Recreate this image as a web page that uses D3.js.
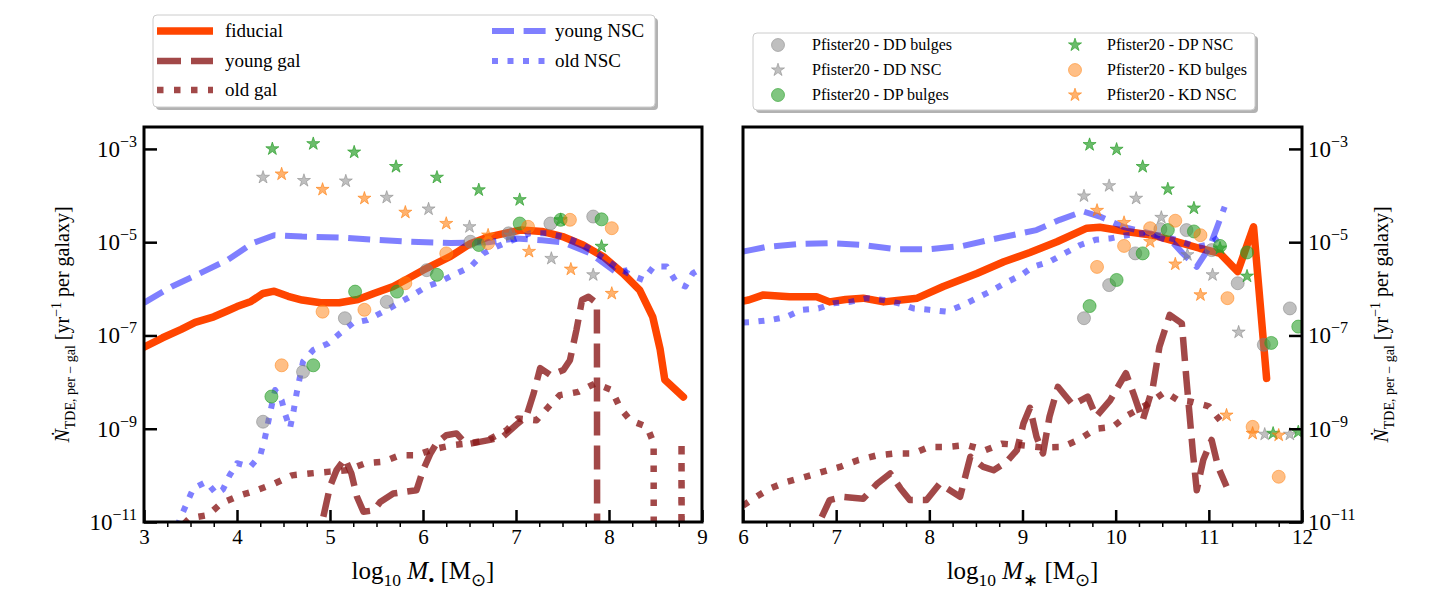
<!DOCTYPE html>
<html><head><meta charset="utf-8">
<script src="https://cdn.jsdelivr.net/npm/d3@7"></script>
<style>
body{margin:0;background:#fff}
svg{display:block}
text{font-family:"Liberation Serif","Times New Roman",serif;fill:#000;white-space:pre}
</style>
</head><body>
<svg id="c" width="1447" height="597"></svg>
<script>
// ---------- data: [x, log10(rate)] ; null = zero rate ----------
// Left panel: x = log10 M_BH
const fiducialL = [[3.0,-7.25],[3.2,-7.05],[3.4,-6.87],[3.55,-6.72],[3.75,-6.6],[3.9,-6.47],[4.0,-6.38],[4.15,-6.27],[4.28,-6.1],[4.4,-6.05],[4.55,-6.16],[4.7,-6.24],[4.9,-6.3],[5.1,-6.3],[5.3,-6.23],[5.47,-6.1],[5.68,-5.95],[5.82,-5.8],[6.0,-5.6],[6.15,-5.45],[6.3,-5.3],[6.5,-5.04],[6.7,-4.89],[6.9,-4.8],[7.05,-4.74],[7.28,-4.77],[7.5,-4.88],[7.72,-5.06],[7.94,-5.31],[8.15,-5.67],[8.33,-6.03],[8.47,-6.6],[8.55,-7.3],[8.6,-7.95],[8.8,-8.32]];
const youngGalL = [[4.85,-11.6],[5.0,-10.24],[5.07,-9.89],[5.16,-9.64],[5.23,-9.96],[5.29,-10.46],[5.36,-10.78],[5.47,-10.75],[5.54,-10.57],[5.68,-10.39],[5.93,-10.32],[6.0,-9.89],[6.08,-9.53],[6.15,-9.3],[6.25,-9.14],[6.36,-9.1],[6.45,-9.3],[6.51,-9.32],[6.72,-9.24],[6.86,-9.17],[7.0,-8.92],[7.11,-8.74],[7.19,-8.24],[7.26,-7.7],[7.37,-7.85],[7.51,-7.74],[7.58,-7.53],[7.65,-6.88],[7.71,-6.24],[7.78,-6.17],[7.87,-6.31],[8.0,null]];
const oldGalL = [[3.3,-11.3],[3.49,-10.92],[3.69,-10.85],[3.83,-10.6],[4.03,-10.43],[4.21,-10.32],[4.41,-10.17],[4.59,-10.0],[4.78,-9.96],[5.0,-9.92],[5.18,-9.89],[5.38,-9.74],[5.57,-9.71],[5.75,-9.57],[5.93,-9.57],[6.11,-9.44],[6.33,-9.35],[6.51,-9.31],[6.7,-9.24],[6.9,-9.03],[7.02,-8.78],[7.22,-8.82],[7.35,-8.53],[7.47,-8.28],[7.67,-8.21],[7.85,-8.03],[8.03,-8.17],[8.12,-8.56],[8.23,-8.82],[8.41,-8.96],[8.48,-9.31],[8.63,null],[8.78,-9.28],[8.93,null]];
const youngNscL = [[3.0,-6.3],[3.3,-5.95],[3.6,-5.67],[3.9,-5.38],[4.17,-5.02],[4.4,-4.85],[4.7,-4.88],[5.1,-4.9],[5.5,-4.95],[5.85,-4.99],[6.3,-5.02],[6.7,-5.0],[7.0,-4.92],[7.28,-4.96],[7.5,-5.0],[7.8,-5.24],[8.08,-5.65],[8.2,-5.6]];
const oldNscL = [[3.3,-11.4],[3.39,-10.92],[3.46,-10.6],[3.53,-10.28],[3.67,-10.14],[3.78,-10.4],[3.85,-10.3],[3.92,-10.0],[4.0,-9.74],[4.14,-9.82],[4.25,-9.57],[4.3,-9.2],[4.37,-8.53],[4.41,-8.17],[4.48,-8.39],[4.52,-8.7],[4.57,-8.99],[4.61,-8.6],[4.64,-8.25],[4.71,-7.56],[4.82,-7.31],[4.98,-7.17],[5.11,-6.95],[5.25,-6.73],[5.4,-6.67],[5.61,-6.45],[5.86,-6.17],[6.04,-5.95],[6.18,-5.85],[6.36,-5.67],[6.51,-5.53],[6.65,-5.24],[6.79,-5.1],[6.97,-4.95],[7.15,-4.81],[7.33,-4.81],[7.51,-4.88],[7.69,-5.02],[7.87,-5.24],[8.08,-5.53],[8.23,-5.7],[8.37,-5.81],[8.48,-5.52],[8.62,-5.52],[8.73,-5.88],[8.82,-5.95],[8.9,-5.67],[9.0,-5.55]];
const ddBulgesL = [[4.28,-8.85],[4.71,-7.78],[5.16,-6.63],[5.61,-6.28],[6.04,-5.6],[6.51,-4.99],[6.92,-4.81],[7.37,-4.6],[7.83,-4.45]];
const ddNscL = [[4.28,-3.61],[4.72,-3.68],[5.17,-3.69],[5.61,-4.04],[6.06,-4.29],[6.5,-4.67],[6.94,-4.85],[7.38,-5.35],[7.83,-5.7]];
const dpBulgesL = [[4.37,-8.31],[4.82,-7.64],[5.27,-6.06],[5.72,-6.06],[6.15,-5.7],[6.6,-5.06],[7.04,-4.6],[7.48,-4.52],[7.92,-4.51]];
const dpNscL = [[4.38,-3.0],[4.82,-2.89],[5.26,-3.07],[5.71,-3.38],[6.15,-3.61],[6.6,-3.88],[7.04,-4.09],[7.48,-4.52],[7.92,-5.09]];
const kdBulgesL = [[4.48,-7.64],[4.92,-6.49],[5.37,-6.45],[5.81,-5.88],[6.25,-5.24],[6.7,-5.02],[7.13,-4.67],[7.58,-4.52],[8.03,-4.7]];
const kdNscL = [[4.48,-3.54],[4.92,-3.87],[5.37,-4.06],[5.81,-4.36],[6.25,-4.6],[6.7,-4.85],[7.14,-5.2],[7.59,-5.58],[8.03,-6.1]];

// Right panel: x = log10 M_*
const fiducialR = [[6.0,-6.26],[6.06,-6.24],[6.22,-6.13],[6.5,-6.17],[6.79,-6.17],[6.93,-6.28],[7.1,-6.23],[7.29,-6.2],[7.51,-6.28],[7.87,-6.2],[8.15,-5.95],[8.51,-5.67],[8.8,-5.42],[9.08,-5.22],[9.37,-4.99],[9.69,-4.7],[9.83,-4.68],[10.11,-4.77],[10.4,-4.85],[10.65,-4.99],[10.9,-5.13],[11.12,-5.24],[11.31,-5.63],[11.48,-4.67],[11.62,-7.92]];
const youngGalR = [[6.75,-11.6],[6.83,-10.96],[6.93,-10.53],[7.08,-10.46],[7.29,-10.5],[7.44,-10.18],[7.58,-9.96],[7.69,-10.28],[7.79,-10.53],[7.97,-10.53],[8.11,-10.18],[8.33,-10.46],[8.44,-9.6],[8.58,-9.82],[8.69,-9.89],[8.83,-9.71],[8.94,-9.46],[9.01,-8.89],[9.08,-8.55],[9.15,-9.17],[9.22,-9.53],[9.29,-8.74],[9.38,-8.1],[9.54,-8.49],[9.7,-8.31],[9.79,-8.74],[9.94,-8.39],[10.11,-7.81],[10.19,-8.24],[10.29,-8.82],[10.4,-8.1],[10.47,-7.24],[10.58,-6.56],[10.71,-6.74],[10.76,-7.95],[10.83,-9.53],[10.87,-10.32],[10.94,-9.67],[11.03,-9.24],[11.1,-9.82],[11.19,-10.24]];
const oldGalR = [[6.0,-10.65],[6.11,-10.5],[6.29,-10.28],[6.47,-10.14],[6.67,-10.03],[6.86,-9.92],[7.04,-9.82],[7.24,-9.67],[7.44,-9.57],[7.63,-9.53],[7.83,-9.53],[8.0,-9.39],[8.2,-9.39],[8.4,-9.35],[8.6,-9.46],[8.78,-9.32],[8.97,-9.35],[9.2,-9.4],[9.43,-9.39],[9.61,-9.23],[9.79,-9.0],[9.97,-8.96],[10.13,-8.71],[10.33,-8.49],[10.53,-8.21],[10.67,-8.39],[10.81,-8.42],[11.0,-8.52],[11.12,-8.82]];
const youngNscR = [[6.0,-5.2],[6.08,-5.17],[6.25,-5.1],[6.58,-5.04],[6.93,-5.02],[7.29,-5.06],[7.65,-5.15],[8.0,-5.15],[8.36,-5.08],[8.65,-4.95],[8.94,-4.83],[9.15,-4.74],[9.4,-4.52],[9.65,-4.34],[9.83,-4.45],[10.08,-4.67],[10.37,-4.81],[10.62,-5.02],[10.72,-5.24],[10.87,-5.53],[11.01,-5.1],[11.17,-4.24]];
const oldNscR = [[6.0,-6.72],[6.11,-6.71],[6.29,-6.67],[6.47,-6.6],[6.63,-6.45],[6.81,-6.42],[6.97,-6.31],[7.15,-6.28],[7.33,-6.2],[7.51,-6.24],[7.67,-6.31],[7.83,-6.42],[8.0,-6.45],[8.19,-6.49],[8.36,-6.35],[8.51,-6.2],[8.65,-6.06],[8.81,-5.88],[8.99,-5.7],[9.11,-5.53],[9.29,-5.42],[9.45,-5.24],[9.62,-5.06],[9.78,-4.95],[9.94,-4.92],[10.12,-4.85],[10.29,-4.81],[10.47,-4.85],[10.65,-4.95],[10.87,-5.1],[11.0,-5.05],[11.1,-4.9]];
const ddBulgesR = [[9.66,-6.63],[9.93,-5.92],[10.21,-5.24],[10.48,-4.72],[10.76,-4.74],[11.03,-5.17],[11.31,-5.88],[11.59,-7.2],[11.87,-6.42]];
const ddNscR = [[9.66,-4.01],[9.93,-3.79],[10.22,-4.06],[10.49,-4.47],[10.77,-5.27],[11.04,-5.7],[11.32,-6.93],[11.6,-9.12],[11.87,-9.12]];
const dpBulgesR = [[9.72,-6.37],[10.01,-5.81],[10.29,-5.24],[10.56,-4.74],[10.84,-4.77],[11.12,-5.08],[11.41,-5.22],[11.67,-7.16],[11.96,-6.81]];
const dpNscR = [[9.72,-2.91],[10.01,-3.01],[10.29,-3.38],[10.56,-3.86],[10.84,-4.27],[11.12,-5.13],[11.41,-5.73],[11.69,-9.1],[11.96,-9.07]];
const kdBulgesR = [[9.8,-5.53],[10.09,-5.08],[10.37,-4.7],[10.64,-4.54],[10.91,-4.85],[11.2,-6.2],[11.47,-8.96],[11.75,-10.03]];
const kdNscR = [[9.8,-4.32],[10.09,-4.58],[10.37,-4.99],[10.64,-5.47],[10.91,-6.13],[11.19,-8.71],[11.47,-9.1],[11.75,-9.14]];

// ticks & labels
const xTicksL = [3,4,5,6,7,8,9];
const xTicksR = [6,7,8,9,10,11,12];
const yTickExps = [-3,-5,-7,-9,-11];
const lineNames = ["fiducial","young gal","old gal","young NSC","old NSC"];
const pointNames = ["Pfister20 - DD bulges","Pfister20 - DD NSC","Pfister20 - DP bulges","Pfister20 - DP NSC","Pfister20 - KD bulges","Pfister20 - KD NSC"];

// ---------- styles ----------
const lineStyles = {
  "fiducial":  {color:"#ff4500", op:1,   w:7.5, dash:null},
  "young gal": {color:"#8b1a1a", op:0.8, w:6.5, dash:"24,10"},
  "old gal":   {color:"#8b1a1a", op:0.8, w:6.5, dash:"6.5,10.5"},
  "young NSC": {color:"#0000ff", op:0.5, w:6,   dash:"22,9.6"},
  "old NSC":   {color:"#0000ff", op:0.5, w:6,   dash:"6,9.5"}
};
const pointStyles = {
  "Pfister20 - DD bulges": {color:"#808080", op:0.5, shape:"circle"},
  "Pfister20 - DD NSC":    {color:"#808080", op:0.5, shape:"star"},
  "Pfister20 - DP bulges": {color:"#2ca02c", op:0.6, shape:"circle"},
  "Pfister20 - DP NSC":    {color:"#2ca02c", op:0.7, shape:"star"},
  "Pfister20 - KD bulges": {color:"#ff7f0e", op:0.5, shape:"circle"},
  "Pfister20 - KD NSC":    {color:"#ff7f0e", op:0.6, shape:"star"}
};

const svg = d3.select("#c");
svg.append("rect").attr("width",1447).attr("height",597).attr("fill","#fff");
const defs = svg.append("defs");

const TOP = 127, BOT = 522;
const y = d3.scaleLog().domain([1e-11, Math.pow(10,-2.53)]).range([BOT, TOP]);
const val = v => v == null ? 1e-300 : Math.pow(10, v);

function richText(sel, parts, size){
  let shift = 0;
  parts.forEach(p=>{
    const ts = sel.append("tspan").text(p.t);
    const target = p.sub ? size*0.28 : (p.sup ? -size*0.42 : 0);
    if (target !== shift){ ts.attr("dy", target - shift); shift = target; }
    if (p.sub || p.sup) ts.attr("font-size", size*0.7);
    if (p.it) ts.attr("font-style","italic");
  });
}

function drawSymbol(g, cx, cy, st, r){
  if (st.shape === "circle"){
    g.append("circle").attr("cx",cx).attr("cy",cy).attr("r",r)
      .attr("fill",st.color).attr("fill-opacity",st.op)
      .attr("stroke",st.color).attr("stroke-opacity",st.op).attr("stroke-width",1);
  } else {
    g.append("path").attr("d", d3.symbol().type(d3.symbolStar).size(r*r*1.25)())
      .attr("transform",`translate(${cx},${cy})`)
      .attr("fill",st.color).attr("fill-opacity",st.op)
      .attr("stroke",st.color).attr("stroke-opacity",st.op).attr("stroke-width",1);
  }
}

const panels = [
  {id:"L", x:d3.scaleLinear().domain([3,9]).range([144,702]), ticks:xTicksL, yside:"left",
   lines:[fiducialL,youngGalL,oldGalL,youngNscL,oldNscL],
   pts:[ddBulgesL,ddNscL,dpBulgesL,dpNscL,kdBulgesL,kdNscL], mark:"•"},
  {id:"R", x:d3.scaleLinear().domain([6,12]).range([743,1302]), ticks:xTicksR, yside:"right",
   lines:[fiducialR,youngGalR,oldGalR,youngNscR,oldNscR],
   pts:[ddBulgesR,ddNscR,dpBulgesR,dpNscR,kdBulgesR,kdNscR], mark:"∗"}
];

panels.forEach(P=>{
  const x = P.x;
  const [x0,x1] = x.range();
  defs.append("clipPath").attr("id","clip"+P.id).append("rect")
    .attr("x",x0).attr("y",TOP).attr("width",x1-x0).attr("height",BOT-TOP);
  const g = svg.append("g").attr("clip-path",`url(#clip${P.id})`);
  const line = d3.line().x(d=>x(d[0])).y(d=>y(val(d[1])));
  P.lines.forEach((data,i)=>{
    const s = lineStyles[lineNames[i]];
    g.append("path").attr("d", line(data)).attr("fill","none")
      .attr("stroke",s.color).attr("stroke-opacity",s.op).attr("stroke-width",s.w)
      .attr("stroke-dasharray",s.dash).attr("stroke-linejoin","round")
      .attr("stroke-linecap", s.dash ? "butt" : "round");
  });
  P.pts.forEach((data,i)=>{
    const s = pointStyles[pointNames[i]];
    data.forEach(d=> drawSymbol(g, x(d[0]), y(val(d[1])), s, 6.5));
  });

  // x axis: major inward, minor outward
  const xa = svg.append("g").attr("transform",`translate(0,${BOT})`)
    .call(d3.axisBottom(x).tickValues(P.ticks).tickSize(-12).tickPadding(7).tickFormat(d3.format("d")));
  xa.select(".domain").remove();
  xa.selectAll(".tick line").attr("stroke-width",2.5);
  xa.selectAll("text").attr("font-size",21).attr("font-family","Liberation Serif");
  const minors = d3.range(x.domain()[0], x.domain()[1]+0.001, 0.25).filter(v=>Math.abs(v-Math.round(v))>0.01);
  const xm = svg.append("g").attr("transform",`translate(0,${BOT})`)
    .call(d3.axisBottom(x).tickValues(minors).tickSize(5).tickFormat(""));
  xm.select(".domain").remove();
  xm.selectAll(".tick line").attr("stroke-width",1.5);

  // y axis
  const ax = P.yside === "left" ? d3.axisLeft(y) : d3.axisRight(y);
  const ya = svg.append("g").attr("transform",`translate(${P.yside==="left"?x0:x1},0)`)
    .call(ax.tickValues(yTickExps.map(e=>Math.pow(10,e))).tickSize(-13).tickPadding(P.yside==="left"?7:6));
  ya.select(".domain").remove();
  ya.selectAll(".tick line").attr("stroke-width",2.5);
  ya.selectAll(".tick text").each(function(d){
    const t = d3.select(this).text("").attr("font-size",23).attr("font-family","Liberation Serif");
    const e = Math.round(Math.log10(d));
    t.append("tspan").text("10");
    t.append("tspan").attr("dy",-10).attr("font-size",16).text("−"+Math.abs(e));
  });

  // frame
  svg.append("rect").attr("x",x0).attr("y",TOP).attr("width",x1-x0).attr("height",BOT-TOP)
    .attr("fill","none").attr("stroke","#000").attr("stroke-width",3);

  // x label
  const cx = (x0+x1)/2;
  const xl = svg.append("text").attr("x",cx).attr("y",579).attr("text-anchor","middle").attr("font-size",25);
  richText(xl, [{t:"log"},{t:"10",sub:true},{t:" "},{t:"M",it:true},{t:P.mark,sub:true},{t:" [M"},{t:"⊙",sub:true},{t:"]"}], 25);

  // y label
  const lx = P.yside === "left" ? 69 : 1388;
  const yl = svg.append("text").attr("transform",`translate(${lx},${(TOP+BOT)/2}) rotate(-90)`)
    .attr("text-anchor","middle").attr("font-size",20);
  richText(yl, [{t:"Ṅ",it:true},{t:"TDE, per − gal",sub:true},{t:" [yr"},{t:"−1",sup:true},{t:" per galaxy]"}], 20);
});

// ---------- legend 1 (lines) ----------
function legendBox(x,y,w,h){
  svg.append("rect").attr("x",x+3).attr("y",y+3).attr("width",w).attr("height",h).attr("rx",4)
    .attr("fill","#000").attr("fill-opacity",0.3);
  svg.append("rect").attr("x",x).attr("y",y).attr("width",w).attr("height",h).attr("rx",4)
    .attr("fill","#fff").attr("stroke","#cccccc").attr("stroke-width",1);
}
legendBox(153,15,502,92);
const l1pos = [[157,31],[157,61],[157,90],[492,31],[492,61]];
lineNames.forEach((n,i)=>{
  const s = lineStyles[n];
  const [lx,ly] = l1pos[i];
  svg.append("line").attr("x1",lx).attr("x2",lx+56).attr("y1",ly).attr("y2",ly)
    .attr("stroke",s.color).attr("stroke-opacity",s.op).attr("stroke-width",s.w)
    .attr("stroke-dasharray",s.dash);
  svg.append("text").attr("x",lx+(i<3?68:63)).attr("y",ly+6).attr("font-size",19).text(n);
});

// ---------- legend 2 (points) ----------
legendBox(753,33,502,77);
const l2pos = [[778,45],[778,70],[778,95],[1075,45],[1075,70],[1075,95]];
pointNames.forEach((n,i)=>{
  const s = pointStyles[n];
  const [lx,ly] = l2pos[i];
  drawSymbol(svg, lx, ly, s, 6.5);
  svg.append("text").attr("x",lx+(i<3?34:32)).attr("y",ly+5).attr("font-size",16).text(n);
});
</script>
</body></html>
